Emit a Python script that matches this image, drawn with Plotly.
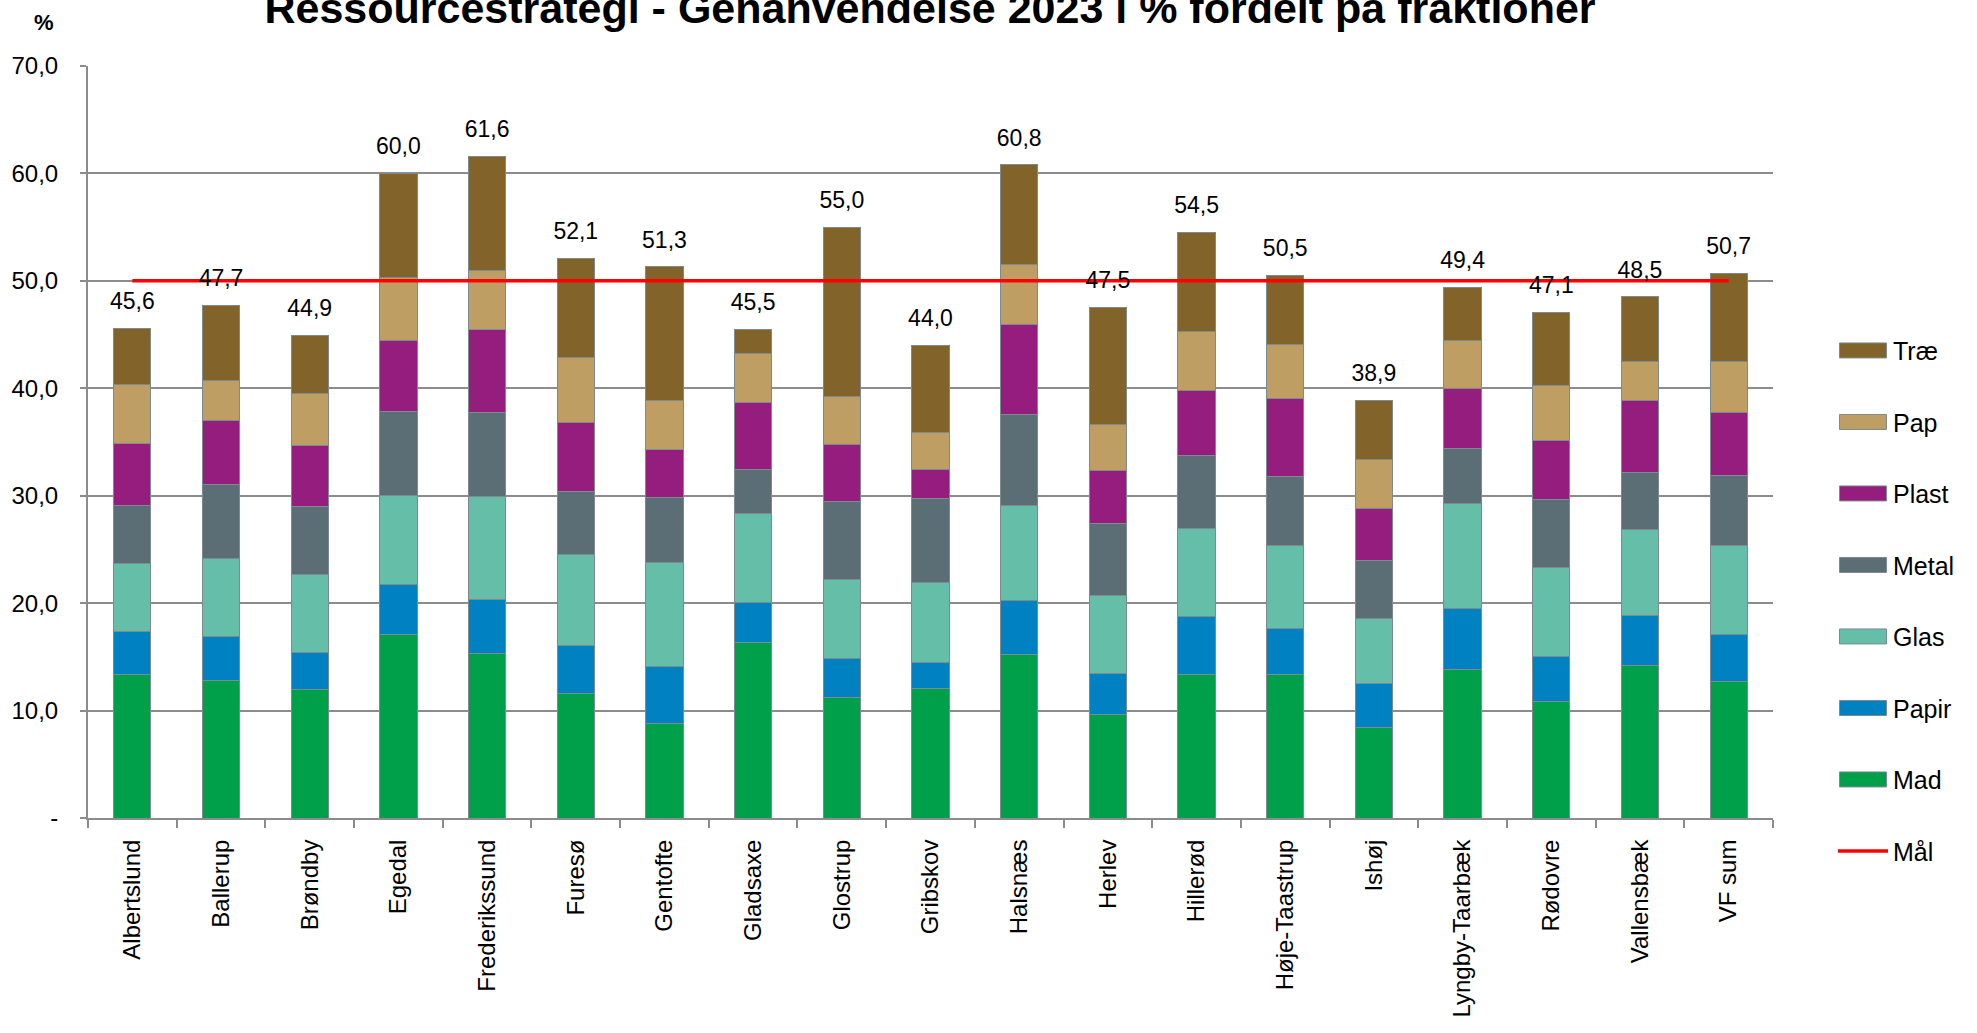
import plotly.graph_objects as go

categories = ["Albertslund", "Ballerup", "Brøndby", "Egedal", "Frederikssund", "Furesø",
              "Gentofte", "Gladsaxe", "Glostrup", "Gribskov", "Halsnæs", "Herlev",
              "Hillerød", "Høje-Taastrup", "Ishøj", "Lyngby-Taarbæk", "Rødovre",
              "Vallensbæk", "VF sum"]

mad   = [13.35, 12.82, 11.98, 17.10, 15.30, 11.58, 8.79, 16.36, 11.24, 12.08, 15.18, 9.63, 13.35, 13.35, 8.45, 13.81, 10.80, 14.22, 12.73]
papir = [4.00, 4.10, 3.42, 4.63, 5.03, 4.47, 5.28, 3.69, 3.60, 2.39, 5.09, 3.84, 5.37, 4.28, 4.06, 5.65, 4.19, 4.59, 4.37]
glas  = [6.34, 7.20, 7.23, 8.25, 9.56, 8.50, 9.71, 8.32, 7.36, 7.48, 8.85, 7.23, 8.25, 7.73, 6.05, 9.78, 8.35, 8.04, 8.29]
metal = [5.43, 6.92, 6.39, 7.89, 7.82, 5.87, 6.08, 4.03, 7.23, 7.79, 8.44, 6.71, 6.74, 6.43, 5.43, 5.18, 6.31, 5.34, 6.49]
plast = [5.74, 5.93, 5.62, 6.58, 7.79, 6.36, 4.47, 6.27, 5.30, 2.70, 8.38, 4.96, 6.05, 7.23, 4.81, 5.52, 5.52, 6.70, 5.86]
pap   = [5.52, 3.72, 4.87, 5.83, 5.43, 6.05, 4.53, 4.60, 4.47, 3.44, 5.55, 4.29, 5.53, 5.06, 4.54, 4.47, 5.09, 3.60, 4.75]
trae  = [5.22, 7.01, 5.39, 9.72, 10.67, 9.27, 12.44, 2.23, 15.80, 8.12, 9.31, 10.84, 9.21, 6.42, 5.56, 4.99, 6.84, 6.01, 8.21]

totals = [45.6, 47.7, 44.9, 60.0, 61.6, 52.1, 51.3, 45.5, 55.0, 44.0, 60.8, 47.5, 54.5, 50.5, 38.9, 49.4, 47.1, 48.5, 50.7]
maal = [50.0, 50.0, 50.0, 50.0, 50.0, 50.0, 50.0, 50.0, 50.0, 50.0, 50.0, 50.0, 50.0, 50.0, 50.0, 50.0, 50.0, 50.0, 50.0]

y_tickvals = [0, 10, 20, 30, 40, 50, 60, 70]
y_ticktext = ["-", "10,0", "20,0", "30,0", "40,0", "50,0", "60,0", "70,0"]

# name, values, colour, legend rank
series = [
    ("Mad", mad, "#00A04B", 7),
    ("Papir", papir, "#0081C1", 6),
    ("Glas", glas, "#65BEA8", 5),
    ("Metal", metal, "#5B6D75", 4),
    ("Plast", plast, "#951D7E", 3),
    ("Pap", pap, "#BE9E62", 2),
    ("Træ", trae, "#82642A", 1),
]

FONT = "Liberation Sans, Arial, sans-serif"
GRID = "#8C8C8C"

fig = go.Figure()

for name, vals, col, rank in series:
    fig.add_trace(go.Bar(
        x=categories, y=vals, name=name, legendgroup=name, legendrank=rank,
        marker=dict(color=col, line=dict(color="#7D8A90", width=1)),
    ))

fig.add_trace(go.Scatter(
    x=categories, y=maal, name="Mål", mode="lines",
    line=dict(color="#FF0000", width=3.5), legendgroup="maal", legendrank=8,
    hoverinfo="skip",
))

fig.add_trace(go.Scatter(
    x=categories, y=totals, mode="markers+text",
    text=[f"{v:.1f}".replace(".", ",") for v in totals],
    textposition="top center",
    textfont=dict(family=FONT, size=23, color="#000000"),
    marker=dict(size=20, color="rgba(0,0,0,0)"),
    showlegend=False, hoverinfo="skip", cliponaxis=False,
))

fig.update_layout(
    width=1977, height=1033,
    margin=dict(l=88, r=204, t=66, b=215, autoexpand=False),
    paper_bgcolor="white", plot_bgcolor="white",
    barmode="stack", bargap=0.58,
    font=dict(family=FONT, size=24, color="#000000"),
    title=dict(
        text="Ressourcestrategi - Genanvendelse 2023 i % fordelt på fraktioner",
        font=dict(family=FONT, size=43, color="#000000", weight="bold"),
        x=(930 / 1977), xanchor="center", xref="container",
        y=0.992, yanchor="middle", yref="container",
    ),
    legend=dict(
        x=1.0356, xanchor="left", y=0.652, yanchor="top",
        traceorder="grouped", tracegroupgap=36,
        font=dict(family=FONT, size=25, color="#000000"),
        bgcolor="rgba(0,0,0,0)", itemwidth=50,
    ),
    xaxis=dict(
        type="category", range=[-0.5, 18.5], tickangle=-90, showgrid=False,
        showline=True, linecolor=GRID, linewidth=2,
        ticks="outside", ticklen=8, tickwidth=2, tickcolor=GRID,
        tickson="boundaries", ticklabelstandoff=10,
        tickfont=dict(family=FONT, size=24, color="#000000"),
    ),
    yaxis=dict(
        range=[0, 70], tickvals=y_tickvals, ticktext=y_ticktext,
        showgrid=True, gridcolor=GRID, gridwidth=2,
        showline=True, linecolor=GRID, linewidth=2,
        ticks="outside", ticklen=6, tickwidth=2, tickcolor=GRID,
        ticklabelstandoff=17, zeroline=False,
        tickfont=dict(family=FONT, size=24, color="#000000"),
    ),
    annotations=[dict(
        text="<b>%</b>", xref="paper", yref="paper",
        x=-0.0264, y=1.0574, xanchor="center", yanchor="middle",
        showarrow=False, font=dict(family=FONT, size=22, color="#000000"),
    )],
)

post = """
document.body.style.margin='0';
function widenLegendBars(){
    document.querySelectorAll('.legendpoints path').forEach(function(p){
        var d = (p.getAttribute('d') || '').replace(/\\s/g, '');
        if (d === 'M6,6H-6V-6H6Z') {
            p.setAttribute('d', 'M23.5,7.5H-23.5V-7.5H23.5Z');
        }
    });
}
widenLegendBars();
setTimeout(widenLegendBars, 50);
setTimeout(widenLegendBars, 300);
"""

fig.write_html("out.html", config={"displayModeBar": False}, post_script=post)
